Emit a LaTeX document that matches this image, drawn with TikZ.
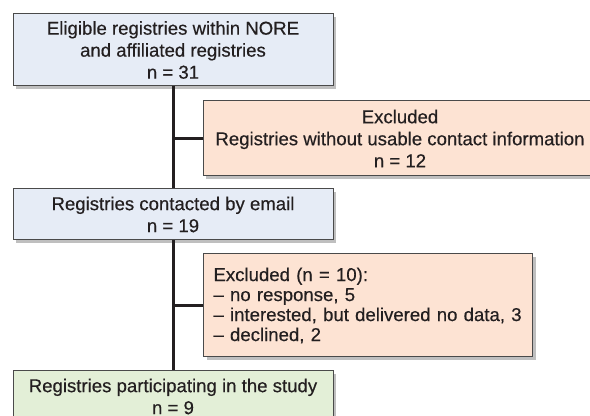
\documentclass[tikz,border=0pt]{standalone}
\usepackage{fontspec}
\setmainfont{Liberation Sans}
\newfontfamily\medfont{Liberation Sans}[FakeBold=0.4]
\usetikzlibrary{shadows}

\definecolor{boxblue}{HTML}{E6ECF6}
\definecolor{boxorange}{HTML}{FDE3D3}
\definecolor{boxgreen}{HTML}{E3EFD7}
\definecolor{edgegray}{HTML}{4A4A4A}
\definecolor{txtgray}{HTML}{231F20}

\begin{document}
\begin{tikzpicture}[x=0.5pt, y=-0.5pt,
    flowbox/.style={draw=edgegray, line width=0.5pt, text=txtgray,
        font=\medfont\fontsize{9.3}{11}\selectfont, align=center, inner sep=0pt,
        drop shadow={shadow xshift=1.5pt, shadow yshift=-1.5pt, fill=black, opacity=0.25}},
    link/.style={line width=1.5pt, draw=txtgray}]
    \clip (0,0) rectangle (590,416);

    % Main flow of registries
    \node[flowbox, fill=boxblue, minimum width=160pt, minimum height=36pt] (elig) at (173,50)
        {Eligible registries within NORE\\and affiliated registries\\n = 31};
    \node[flowbox, fill=boxblue, minimum width=160pt, minimum height=25.5pt] (contact) at (173,214.5)
        {Registries contacted by email\\n = 19};
    \node[flowbox, fill=boxgreen, minimum width=160pt, minimum height=25.5pt] (part) at (173,396.5)
        {Registries participating in the study\\n = 9};

    % Exclusion boxes
    \node[flowbox, fill=boxorange, minimum width=197pt, minimum height=37.5pt] (excla) at (400,138.5)
        {Excluded\\Registries without usable contact information\\n = 12};
    \node[flowbox, fill=boxorange, anchor=west, align=left, text width=154.5pt, inner xsep=5pt,
        minimum height=51.5pt, font=\medfont\fontsize{9.3}{10}\selectfont] (exclb) at (203,305.5)
        {Excluded (n = 10):\\– no response, 5\\– interested, but delivered no data, 3\\– declined, 2};

    % Connectors
    \draw[link] (elig.south) -- (contact.north);
    \draw[link] (contact.south) -- (part.north);
    \draw[link] (elig.south |- excla.west) -- (excla.west);
    \draw[link] (contact.south |- exclb.west) -- (exclb.west);
\end{tikzpicture}
\end{document}
